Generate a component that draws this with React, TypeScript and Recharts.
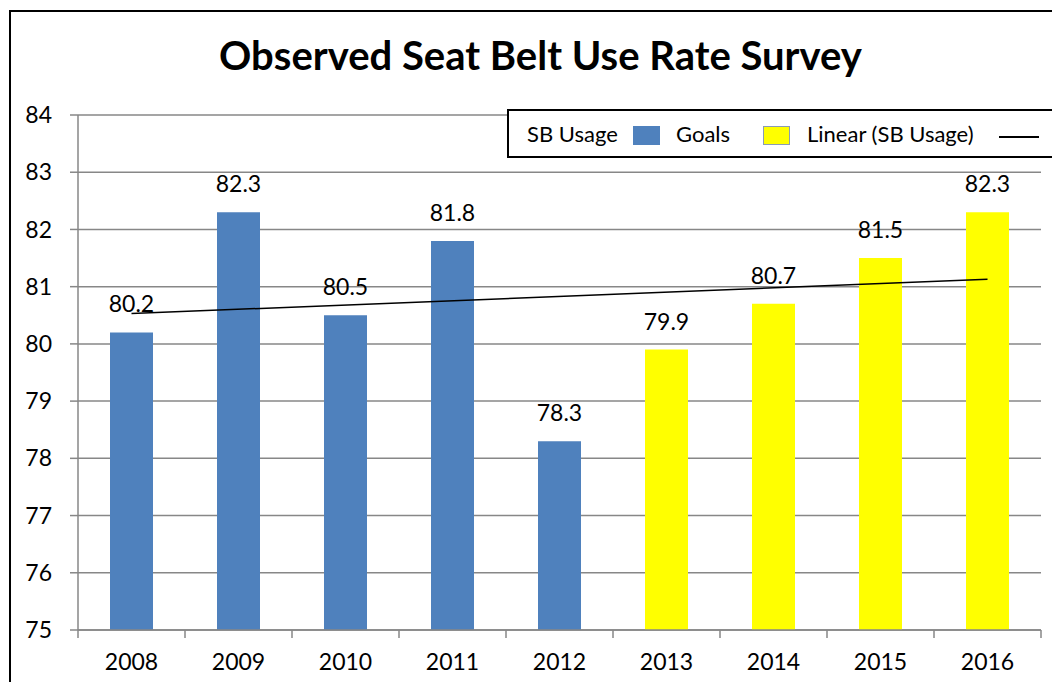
import { BarChart, Bar, XAxis, YAxis, CartesianGrid, LabelList, Cell, ReferenceLine } from 'recharts';

const YEARS = ['2008', '2009', '2010', '2011', '2012', '2013', '2014', '2015', '2016'];
const SB_USAGE = [80.2, 82.3, 80.5, 81.8, 78.3];
const GOALS = [79.9, 80.7, 81.5, 82.3];
const Y_TICKS = [75, 76, 77, 78, 79, 80, 81, 82, 83, 84];
// linear trend of SB usage at 2008 and 2016
const TREND = [80.53, 81.13];

const BLUE = '#4F81BD';
const YELLOW = '#FFFF00';
const GRID = '#878787';
const FONT = 'Lato, "Open Sans", sans-serif';

const rows = YEARS.map((year, i) => ({
  year,
  value: i < SB_USAGE.length ? SB_USAGE[i] : GOALS[i - SB_USAGE.length],
  series: i < SB_USAGE.length ? 'sb' : 'goals',
}));

function YearTick(props: any) {
  const { x, y, payload, index } = props;
  const half = payload.offset || 53.5;
  return (
    <g>
      <line x1={x - half} x2={x - half} y1={y} y2={y + 8} stroke={GRID} strokeWidth={1.5} />
      {index === YEARS.length - 1 && (
        <line x1={x + half} x2={x + half} y1={y} y2={y + 8} stroke={GRID} strokeWidth={1.5} />
      )}
      <text x={x} y={y + 40} textAnchor="middle" fontSize={23} fill="#000" fontFamily={FONT}>
        {payload.value}
      </text>
    </g>
  );
}

function LegendBox() {
  const item = (left: number, content: any) => (
    <div style={{ position: 'absolute', left, top: 0, height: '100%', display: 'flex', alignItems: 'center' }}>{content}</div>
  );
  const swatch = (color: string, border: string) => (
    <span style={{ display: 'inline-block', width: 27, height: 19, marginTop: 4, background: color, border: `1px solid ${border}`, boxSizing: 'border-box' }} />
  );
  return (
    <div
      style={{
        position: 'absolute', left: 507, top: 109, width: 551, height: 49, boxSizing: 'border-box',
        border: '2px solid #000', background: '#fff',
        fontFamily: FONT, fontSize: 22, color: '#000', whiteSpace: 'nowrap',
      }}
    >
      {item(18, <span>SB Usage</span>)}
      {item(124, swatch(BLUE, BLUE))}
      {item(167, <span>Goals</span>)}
      {item(254, swatch(YELLOW, '#8a9bb5'))}
      {item(298, <span>Linear (SB Usage)</span>)}
      {item(490, <span style={{ display: 'inline-block', width: 40, height: 2, marginTop: 6, background: '#000' }} />)}
    </div>
  );
}

export default function App() {
  return (
    <div style={{ position: 'relative', margin: -8, width: 1060, height: 690, overflow: 'hidden', background: '#fff' }}>
      <div style={{ position: 'absolute', left: 9, top: 10, width: 1200, height: 800, border: '2px solid #000' }} />
      <div
        style={{
          position: 'absolute', left: 0, top: 31, width: 1081, textAlign: 'center',
          fontFamily: FONT, fontWeight: 700, fontSize: 40, color: '#000',
        }}
      >
        Observed Seat Belt Use Rate Survey
      </div>
      <div style={{ position: 'absolute', left: 0, top: 0 }}>
        <BarChart width={1060} height={690} data={rows} margin={{ top: 115, right: 19, bottom: 20, left: 0 }}>
          <CartesianGrid vertical={false} stroke={GRID} strokeWidth={1.5} />
          <XAxis
            dataKey="year"
            height={40}
            tickLine={false}
            tickSize={0}
            tickMargin={0}
            axisLine={{ stroke: GRID, strokeWidth: 1.5 }}
            tick={<YearTick />}
            interval={0}
          />
          <YAxis
            width={78}
            domain={[75, 84]}
            ticks={Y_TICKS}
            interval={0}
            tickSize={8}
            tickMargin={18}
            tickLine={{ stroke: GRID, strokeWidth: 1.5 }}
            axisLine={{ stroke: GRID, strokeWidth: 1.5 }}
            tick={{ fill: '#000', fontSize: 23, fontFamily: FONT }}
          />
          <Bar dataKey="value" barSize={43} isAnimationActive={false}>
            {rows.map((r, i) => (
              <Cell key={`cell-${i}`} fill={r.series === 'sb' ? BLUE : YELLOW} />
            ))}
            <LabelList dataKey="value" position="top" offset={20} fill="#000" fontSize={23} fontFamily={FONT} />
          </Bar>
          <ReferenceLine
            segment={[
              { x: YEARS[0], y: TREND[0] },
              { x: YEARS[YEARS.length - 1], y: TREND[1] },
            ]}
            stroke="#000"
            strokeWidth={1.5}
          />
        </BarChart>
      </div>
      <LegendBox />
    </div>
  );
}
